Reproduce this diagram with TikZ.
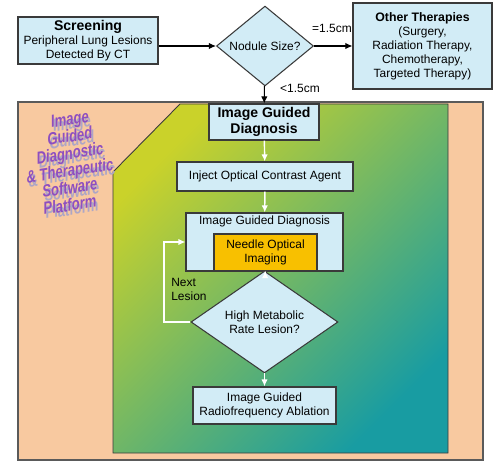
\documentclass[tikz,border=0pt]{standalone}
\usepackage{fontspec}
\setmainfont{Liberation Sans}
\newfontfamily\platformfont[FakeStretch=0.74]{Liberation Sans}
\usepackage{tikz}
\usetikzlibrary{arrows.meta,positioning,shapes.geometric}
\definecolor{boxblue}{HTML}{D2ECF6}
\definecolor{boxborder}{HTML}{3A3A3A}
\definecolor{panelorange}{HTML}{F8C9A0}
\definecolor{panelborder}{HTML}{5A5A5A}
\definecolor{needlegold}{HTML}{F8C000}
\definecolor{gyellow}{HTML}{CAD22A}
\definecolor{gteal}{HTML}{189CA2}
\definecolor{markpurple}{HTML}{8E4FC0}
\definecolor{markshadow}{HTML}{ADA6C6}

\begin{document}
\begin{tikzpicture}[x=0.02cm,y=-0.02cm,>={Latex[length=4pt,width=3.6pt]}]
\tikzstyle{box}=[draw=boxborder,fill=boxblue,align=center,inner sep=1pt,line width=0.6pt,font=\fontsize{6.8}{8}\selectfont]
\tikzstyle{decision}=[box,diamond,inner sep=0pt]
\tikzstyle{lbl}=[inner sep=0pt,font=\fontsize{6.8}{8}\selectfont]
\tikzstyle{head}=[font=\bfseries\fontsize{8}{9}\selectfont]
\tikzstyle{flow}=[->,line width=0.6pt]
\tikzstyle{wflow}=[->,white,line width=0.8pt]
\tikzstyle{marktext}=[align=center,yslant=0.15,transform shape,inner sep=0pt,font=\platformfont\bfseries\fontsize{10}{9.8}\selectfont]
\useasboundingbox (0,0) rectangle (500,469);
\fill[white] (0,0) rectangle (500,469);
\filldraw[fill=panelorange,draw=panelborder,line width=0.9pt] (18,102) rectangle (483,460);
\shadedraw[top color=gyellow,bottom color=gteal,shading angle=45,draw=boxborder,line width=0.5pt] (113,172) -- (180,104) -- (448,104) -- (448,453) -- (113,453) -- cycle;
\node[marktext,text=markshadow] (platformshadow) at (72,166) {Image\\Guided\\Diagnostic\\\& Therapeutic\\Software\\Platform};
\node[marktext,text=markpurple] (platform) at (70,162) {Image\\Guided\\Diagnostic\\\& Therapeutic\\Software\\Platform};
\node[box,minimum width=2.8cm,minimum height=0.94cm] (screening) at (88,40.5) {{\bfseries\fontsize{8}{9}\selectfont Screening}\\Peripheral Lung Lesions\\Detected By CT};
\node[decision,minimum width=1.94cm,minimum height=1.16cm] (nodule) at (265,46) {Nodule Size?};
\node[box,minimum width=2.78cm,minimum height=1.72cm] (other) at (422.5,46) {{\bfseries\fontsize{7}{8}\selectfont Other Therapies}\\(Surgery,\\Radiation Therapy,\\Chemotherapy,\\Targeted Therapy)};
\node[box,head,minimum width=2.2cm,minimum height=0.72cm] (igd) at (264,122) {Image Guided\\Diagnosis};
\node[box,minimum width=3.52cm,minimum height=0.58cm] (inject) at (265,176.5) {Inject Optical Contrast Agent};
\node[box,minimum width=3.14cm,minimum height=1.16cm] (igdbox) at (264.5,242) {};
\node[lbl] (igdtitle) at (264.5,221) {Image Guided Diagnosis};
\node[box,fill=needlegold,minimum width=2.06cm,minimum height=0.74cm] (needle) at (265.5,252.5) {Needle Optical\\Imaging};
\node[decision,minimum width=2.94cm,minimum height=1.16cm] (metabolic) at (264.5,322) {High Metabolic\\Rate Lesion?};
\node[box,minimum width=2.86cm,minimum height=0.74cm] (ablation) at (264.5,405.5) {Image Guided\\Radiofrequency Ablation};
\coordinate (loop) at (164,322);
\node[lbl] (eqlabel) at (332,28) {=1.5cm};
\node[lbl] (ltlabel) at (300,88) {<1.5cm};
\node[lbl,align=left,anchor=west] (nextlabel) at (171,289) {Next\\Lesion};
\draw[flow] (screening.east |- nodule.west) -- (nodule.west);
\draw[flow] (nodule) -- (other);
\draw[flow] (nodule) -- (igd);
\draw[wflow] (igd) -- (inject);
\draw[wflow] (inject) -- (igdbox);
\draw[wflow] (needle) -- (metabolic);
\draw[wflow] (metabolic) -- (ablation);
\draw[wflow] (metabolic.west) -- (loop) |- (igdbox.west);
\end{tikzpicture}
\end{document}
